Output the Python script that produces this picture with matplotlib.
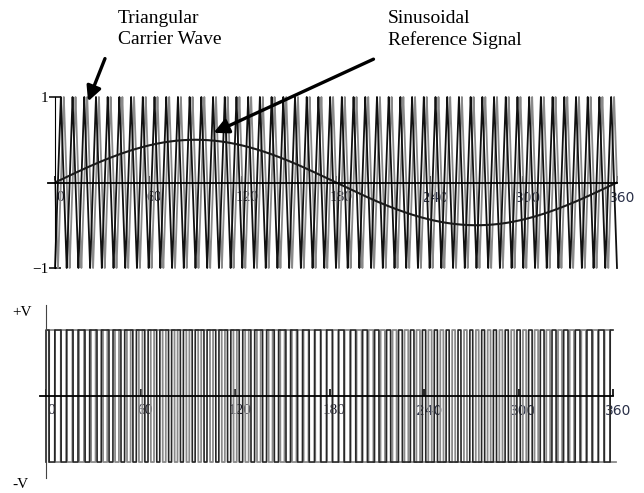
import numpy as np
import matplotlib.pyplot as plt
from matplotlib.patches import FancyArrowPatch
from matplotlib.transforms import ScaledTranslation

W, H, DPI = 644, 493, 100

# Parametros de la modulacion
angle_ticks = [0, 60, 120, 180, 240, 300, 360]
angle_labels = ['0', '60', '120', '180', '240', '300', '360']
serif_labels = ['0', '60', '120', '180']
carrier_cycles = 48      # periodos de la portadora por ciclo
mod_index = 0.5          # amplitud de la senal de referencia
trace_lag = 1.9          # grados, segunda traza (gris)

theta = np.linspace(0, 360, 36001)
period = 360 / carrier_cycles


def carrier_wave(t):
    """Portadora triangular entre -1 y 1, empieza en -1"""
    return 1 - 2 * np.abs(2 * ((t / period) % 1) - 1)


def reference_wave(t):
    return mod_index * np.sin(np.radians(t))


def pwm_wave(t):
    return np.where(reference_wave(t) > carrier_wave(t), 1.0, -1.0)


carrier = carrier_wave(theta)
carrier_lag = carrier_wave(theta - trace_lag)
reference = reference_wave(theta)
theta_pwm = np.r_[0, theta]
pwm = np.r_[-1.0, pwm_wave(theta)]
pwm_lag = np.r_[-1.0, pwm_wave(theta - trace_lag)]


def fx(px):
    return px / W


def fy(py):
    return 1 - py / H


def box(x0, y0, x1, y1):
    return [fx(x0), fy(y1), (x1 - x0) / W, (y1 - y0) / H]


fig = plt.figure(figsize=(W / DPI, H / DPI), dpi=DPI)
shift = ScaledTranslation(5 / DPI, 0, fig.dpi_scale_trans)


def style_angle_axis(ax):
    ax.set_xlim(0, 360)
    ax.spines[['top', 'right']].set_visible(False)
    ax.spines['bottom'].set_position(('data', 0))
    ax.spines['bottom'].set_linewidth(1.3)
    ax.set_xticks(angle_ticks)
    ax.set_xticklabels(angle_labels)
    ax.tick_params(axis='x', direction='in', length=5, width=1.2, pad=6, labelsize=11)
    for lab in ax.get_xticklabels():
        if lab.get_text() in serif_labels:
            lab.set_fontfamily('Liberation Serif')
            lab.set_color('#1a1a2a')
        else:
            lab.set_fontfamily('DejaVu Sans')
            lab.set_fontsize(10)
            lab.set_color('#2a3048')
        lab.set_transform(lab.get_transform() + shift)


# Grafico 1: portadora triangular y referencia senoidal
ax1 = fig.add_axes(box(55, 97, 617, 268))
ax1.plot(theta, carrier_lag, color='#8a8a8a', lw=1.3, clip_on=False)
ax1.plot(theta, carrier, color='#111111', lw=1.3, clip_on=False)
ax1.plot(theta, reference, color='#1a1a1a', lw=1.5)
ax1.set_ylim(-1, 1)
style_angle_axis(ax1)
ax1.plot([-4.5, 0], [0, 0], color='black', lw=1.3, clip_on=False)
ax1.set_yticks([-1, 1])
ax1.set_yticklabels(['\u22121', '1'], fontfamily='Liberation Serif')
ax1.tick_params(axis='y', direction='inout', length=8, width=1.1, pad=1, labelsize=11)

# Grafico 2: salida PWM
ax2 = fig.add_axes(box(46, 305, 613, 478))
ax2.plot(theta_pwm + trace_lag, pwm_lag, color='#8a8a8a', lw=1.3, clip_on=False)
ax2.plot(theta_pwm, pwm, color='#262626', lw=1.2, clip_on=False)
ax2.set_ylim(-1.242, 1.379)
style_angle_axis(ax2)
ax2.spines['left'].set_color('#444444')
ax2.plot([-3.8, 0], [0, 0], color='black', lw=1.3, clip_on=False)
ax2.set_yticks([])

fig.text(fx(12), fy(313), '+V', fontfamily='Liberation Serif', fontsize=11, va='center')
fig.text(fx(12), fy(485), '-V', fontfamily='Liberation Serif', fontsize=11, va='center')

# Etiquetas con flechas
fig.text(fx(118), fy(10), 'Triangular\nCarrier Wave', fontfamily='Liberation Serif',
         fontsize=14, va='top', ha='left', linespacing=1.3)
fig.text(fx(388), fy(10), 'Sinusoidal\nReference Signal', fontfamily='Liberation Serif',
         fontsize=14, va='top', ha='left', linespacing=1.3)

for start, end in [((106, 56), (87, 104)), ((376, 58), (211, 134))]:
    arrow = FancyArrowPatch((fx(start[0]), fy(start[1])), (fx(end[0]), fy(end[1])),
                            transform=fig.transFigure, arrowstyle='-|>',
                            mutation_scale=22, lw=2.4, color='black')
    fig.add_artist(arrow)

plt.savefig('out.png', dpi=DPI)
